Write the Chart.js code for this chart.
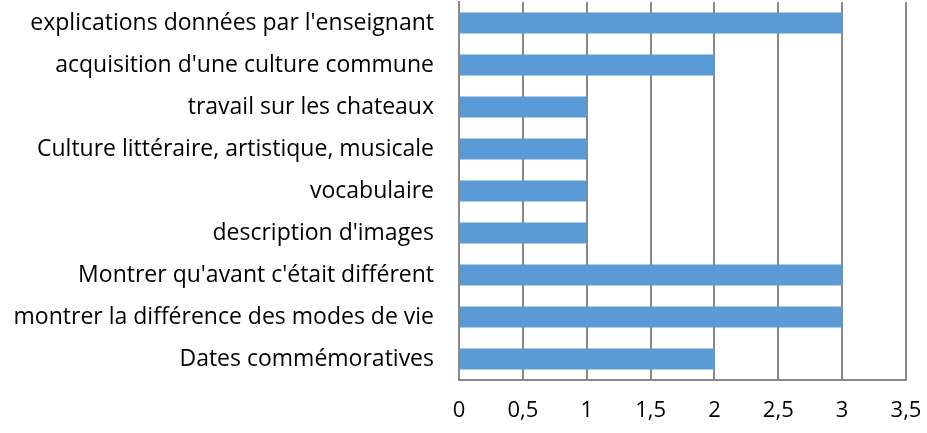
<!DOCTYPE html>
<html lang="fr">
<head>
<meta charset="utf-8" />
<title>Graphique</title>
<style>
  html, body { margin: 0; padding: 0; background: #fff; }
  #wrap { width: 927px; height: 433px; }
</style>
</head>
<body>
<div id="wrap"><canvas id="barres" width="927" height="433"></canvas></div>
<script src="https://cdn.jsdelivr.net/npm/chart.js@4.4.1/dist/chart.umd.min.js"></script>
<script>
  var categories = [
    "explications données par l'enseignant",
    "acquisition d'une culture commune",
    "travail sur les chateaux",
    "Culture littéraire, artistique, musicale",
    "vocabulaire",
    "description d'images",
    "Montrer qu'avant c'était différent",
    "montrer la différence des modes de vie",
    "Dates commémoratives"
  ];
  var valeurs = [3, 2, 1, 1, 1, 1, 3, 3, 2];
  var graduations = [0, 0.5, 1, 1.5, 2, 2.5, 3, 3.5];

  new Chart(document.getElementById("barres").getContext("2d"), {
    type: "bar",
    data: {
      labels: categories,
      datasets: [{ data: valeurs, backgroundColor: "#5b9bd5", barPercentage: 0.5, categoryPercentage: 1 }]
    },
    options: {
      indexAxis: "y",
      responsive: false,
      animation: false,
      layout: { padding: { top: 2, right: 21, left: 0, bottom: 0 } },
      plugins: { legend: { display: false }, tooltip: { enabled: false } },
      scales: {
        x: {
          min: 0,
          max: 3.5,
          afterBuildTicks: function (s) { s.ticks = graduations.map(function (v) { return { value: v }; }); },
          // pas de marge auto autour de l'axe
          afterFit: function (s) { s.height = 53; s.paddingLeft = 0; s.paddingRight = 0; },
          grid: { color: "#888", lineWidth: 2, drawTicks: false },
          border: { color: "#888", width: 2 },
          ticks: {
            padding: 18,
            color: "#000",
            font: { family: "Open Sans", size: 22 },
            callback: function (v) { return String(v).replace(".", ","); }
          }
        },
        y: {
          afterFit: function (s) { s.width = 459; s.paddingTop = 0; s.paddingBottom = 0; },
          grid: { display: false, drawTicks: false },
          border: { color: "#888", width: 2 },
          ticks: { padding: 25, color: "#000", font: { family: "Open Sans", size: 23 } }
        }
      }
    }
  });
</script>
</body>
</html>
